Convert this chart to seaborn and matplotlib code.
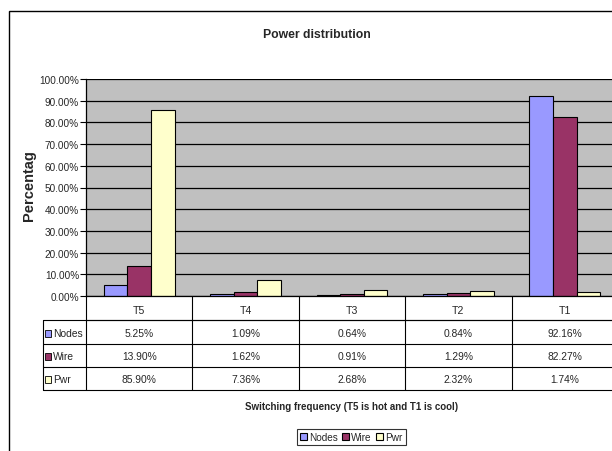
import matplotlib
matplotlib.use("Agg")
import matplotlib.pyplot as plt
import matplotlib.transforms as mtransforms
from matplotlib.lines import Line2D
from matplotlib.patches import Rectangle
import seaborn as sns
import pandas as pd

# ---- data ----
categories = ["T5", "T4", "T3", "T2", "T1"]
series_names = ["Nodes", "Wire", "Pwr"]
nodes = [5.25, 1.09, 0.64, 0.84, 92.16]
wire = [13.90, 1.62, 0.91, 1.29, 82.27]
pwr = [85.90, 7.36, 2.68, 2.32, 1.74]
colors = ["#9999FF", "#993366", "#FFFFCC"]
yticks = [0, 10, 20, 30, 40, 50, 60, 70, 80, 90, 100]

sns.set_style("white")
plt.rcParams["font.family"] = ["Liberation Sans", "DejaVu Sans"]

rows = []
for name, vals in zip(series_names, [nodes, wire, pwr]):
    for c, v in zip(categories, vals):
        rows.append({"cat": c, "series": name, "val": v})
df = pd.DataFrame(rows)

W, H = 612, 452
fig = plt.figure(figsize=(W / 100, H / 100), dpi=100)
fig.patch.set_facecolor("white")

ax = fig.add_axes([86 / W, 1 - 297 / H, 532 / W, 217 / H])
ax.set_facecolor("#C0C0C0")
sns.barplot(data=df, x="cat", y="val", hue="series", order=categories,
            hue_order=series_names, palette=colors, width=0.667, gap=0,
            edgecolor="black", linewidth=0.8, saturation=1, ax=ax, legend=True)
ax.set_xlim(-0.5, 4.5)
ax.set_ylim(0, 100)
ax.set_yticks(yticks)
ax.set_yticklabels([f"{v:.2f}%" for v in yticks], fontsize=7.2)
ax.set_xticks([])
ax.set_xlabel("")
ax.set_ylabel("")
ax.yaxis.grid(True, color="black", linewidth=0.9)
ax.set_axisbelow(True)
ax.tick_params(axis="y", direction="out", length=4, width=0.8, color="black", pad=1, left=True)
for s in ["top", "right"]:
    ax.spines[s].set_visible(False)
for s in ["left", "bottom"]:
    ax.spines[s].set_color("black")
    ax.spines[s].set_linewidth(0.9)

# legend at bottom
handles, labels = ax.get_legend_handles_labels()
ax.legend(handles, labels, loc="upper center", bbox_to_anchor=(351 / W, 1 - 430 / H),
          bbox_transform=fig.transFigure, ncol=3, frameon=True, fancybox=False,
          edgecolor="black", fontsize=7.2, handlelength=0.7, handleheight=0.8,
          handletextpad=0.25, columnspacing=0.4, borderpad=0.3, borderaxespad=0)
ax.get_legend().get_frame().set_linewidth(0.8)

# ---- data table ----
bt = mtransforms.blended_transform_factory(ax.transData, fig.transFigure)
def fy(p):
    return 1 - p / H

row_y = [297, 321, 345, 368, 391]
line_kw = dict(color="black", linewidth=0.8, clip_on=False)
fig.add_artist(Line2D([-0.5, 4.5], [fy(321), fy(321)], transform=bt, **line_kw))
for yy in row_y[1:]:
    fig.add_artist(Line2D([43 / W, 1.0], [fy(yy), fy(yy)], transform=fig.transFigure, **line_kw))
for i in range(len(categories) + 1):
    xb = -0.5 + i
    fig.add_artist(Line2D([xb, xb], [fy(297), fy(391)], transform=bt, **line_kw))
fig.add_artist(Line2D([43 / W, 43 / W], [fy(321), fy(391)], transform=fig.transFigure, **line_kw))

for i, c in enumerate(categories):
    fig.text(i, fy(311), c, transform=bt, ha="center", va="center", fontsize=7.6)
for r, (name, vals, col) in enumerate(zip(series_names, [nodes, wire, pwr], colors)):
    yc = (row_y[r + 1] + row_y[r + 2]) / 2 + 1
    fig.patches.append(Rectangle((45 / W, fy(yc + 3.5)), 6 / W, 7 / H, facecolor=col,
                                 edgecolor="black", linewidth=0.6, transform=fig.transFigure))
    fig.text(53 / W, fy(yc), name, ha="left", va="center", fontsize=7.4)
    for i, v in enumerate(vals):
        fig.text(i, fy(yc), f"{v:.2f}%", transform=bt, ha="center", va="center", fontsize=7.4)

# titles / labels
fig.text(317 / W, fy(35), "Power distribution", ha="center", va="center",
         fontsize=8.8, fontweight="bold")
fig.text(352 / W, fy(407), "Switching frequency (T5 is hot and T1 is cool)",
         ha="center", va="center", fontsize=7.0, fontweight="bold")
fig.text(29 / W, fy(186), "Percentag", rotation=90, ha="center", va="center",
         fontsize=10.5, fontweight="bold")

# outer chart border
fig.patches.append(Rectangle((9 / W, -0.1), 1.2, (1 - 12 / H) + 0.1, fill=False,
                             edgecolor="black", linewidth=1.0, transform=fig.transFigure))

fig.savefig("out.png", dpi=100)
